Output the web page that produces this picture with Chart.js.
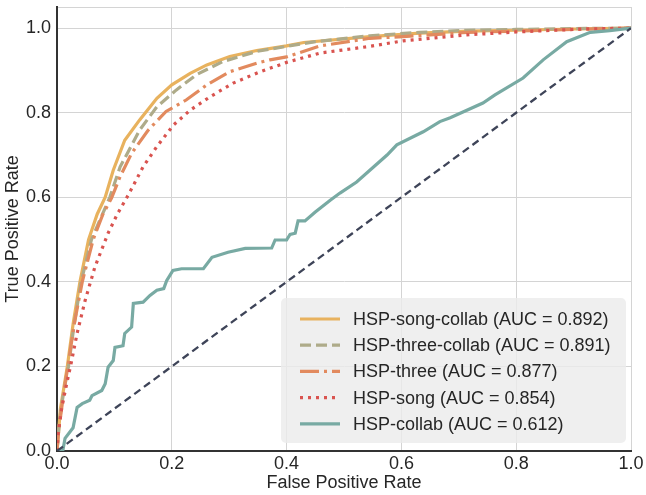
<!DOCTYPE html>
<html>
<head>
<meta charset="utf-8">
<script src="https://cdn.jsdelivr.net/npm/chart.js@4.4.1/dist/chart.umd.min.js"></script>
<style>
  html, body { margin: 0; padding: 0; background: #ffffff; }
  #roc { display: block; }
</style>
</head>
<body>
<canvas id="roc" width="646" height="495"></canvas>
<script>
// ROC curves, values
const seriesLabels = [
    'HSP-song-collab (AUC = 0.892)',
    'HSP-three-collab (AUC = 0.891)',
    'HSP-three (AUC = 0.877)',
    'HSP-song (AUC = 0.854)',
    'HSP-collab (AUC = 0.612)'
];

const songCollabFpr = [0, 0.003, 0.006, 0.012, 0.018, 0.028, 0.04, 0.055, 0.07, 0.084, 0.098, 0.118, 0.144, 0.174, 0.2, 0.232, 0.261, 0.301, 0.348, 0.4, 0.43, 0.545, 0.632, 0.714, 0.8, 0.9, 1];
const songCollabTpr = [0, 0.05, 0.1, 0.15, 0.2, 0.3, 0.4, 0.5, 0.56, 0.6, 0.664, 0.735, 0.783, 0.834, 0.866, 0.893, 0.913, 0.933, 0.947, 0.958, 0.966, 0.98, 0.988, 0.993, 0.995, 0.998, 1];

const threeCollabFpr = [0, 0.003, 0.007, 0.013, 0.02, 0.03, 0.042, 0.06, 0.092, 0.11, 0.144, 0.174, 0.208, 0.243, 0.289, 0.348, 0.4, 0.45, 0.545, 0.632, 0.714, 0.8, 0.9, 1];
const threeCollabTpr = [0, 0.05, 0.1, 0.15, 0.2, 0.3, 0.4, 0.5, 0.6, 0.672, 0.759, 0.814, 0.854, 0.89, 0.921, 0.945, 0.957, 0.968, 0.982, 0.99, 0.995, 0.997, 0.999, 1];

const threeFpr = [0, 0.003, 0.008, 0.013, 0.019, 0.03, 0.044, 0.063, 0.08, 0.095, 0.11, 0.13, 0.159, 0.19, 0.225, 0.261, 0.301, 0.348, 0.371, 0.4, 0.458, 0.545, 0.603, 0.714, 0.8, 0.9, 1];
const threeTpr = [0, 0.05, 0.1, 0.15, 0.2, 0.3, 0.4, 0.5, 0.56, 0.598, 0.649, 0.704, 0.759, 0.803, 0.83, 0.866, 0.897, 0.917, 0.925, 0.932, 0.958, 0.976, 0.98, 0.99, 0.993, 0.997, 1];

const songFpr = [0, 0.002, 0.008, 0.017, 0.025, 0.035, 0.049, 0.066, 0.089, 0.105, 0.124, 0.15, 0.174, 0.203, 0.232, 0.267, 0.307, 0.354, 0.4, 0.458, 0.545, 0.603, 0.714, 0.8, 0.917, 1];
const songTpr = [0, 0.04, 0.1, 0.16, 0.21, 0.278, 0.356, 0.435, 0.515, 0.56, 0.605, 0.672, 0.72, 0.771, 0.806, 0.838, 0.87, 0.897, 0.919, 0.941, 0.957, 0.97, 0.984, 0.991, 0.998, 1];

const collabFpr = [0, 0.01, 0.014, 0.028, 0.035, 0.044, 0.057, 0.061, 0.078, 0.084, 0.089, 0.098, 0.101, 0.115, 0.118, 0.13, 0.133, 0.15, 0.162, 0.174, 0.186, 0.191, 0.202, 0.217, 0.255, 0.27, 0.298, 0.328, 0.374, 0.38, 0.4, 0.406, 0.415, 0.42, 0.432, 0.45, 0.476, 0.493, 0.522, 0.575, 0.592, 0.638, 0.667, 0.685, 0.742, 0.763, 0.812, 0.847, 0.888, 0.929, 0.963, 1];
const collabTpr = [0, 0, 0.03, 0.055, 0.103, 0.112, 0.12, 0.131, 0.143, 0.159, 0.198, 0.214, 0.245, 0.249, 0.278, 0.293, 0.349, 0.352, 0.368, 0.38, 0.384, 0.403, 0.427, 0.431, 0.431, 0.458, 0.47, 0.479, 0.48, 0.499, 0.499, 0.512, 0.515, 0.544, 0.544, 0.565, 0.593, 0.61, 0.636, 0.7, 0.724, 0.755, 0.779, 0.788, 0.823, 0.842, 0.882, 0.925, 0.968, 0.99, 0.994, 1];

const chanceFpr = [0, 1];
const chanceTpr = [0, 1];

const xTicks = [0, 0.2, 0.4, 0.6, 0.8, 1.0];
const yTicks = [0, 0.2, 0.4, 0.6, 0.8, 1.0];

function toPoints(xs, ys) {
    return xs.map(function (x, i) { return { x: x, y: ys[i] }; });
}

const LW = 3.2;
const styles = [
    { color: '#e8b25e', dash: [] },
    { color: '#aeab89', dash: [11, 5] },
    { color: '#e28a5e', dash: [19, 5, 3, 5] },
    { color: '#d9534f', dash: [3, 5] },
    { color: '#78aaa3', dash: [] }
];

const seriesData = [
    toPoints(songCollabFpr, songCollabTpr),
    toPoints(threeCollabFpr, threeCollabTpr),
    toPoints(threeFpr, threeTpr),
    toPoints(songFpr, songTpr),
    toPoints(collabFpr, collabTpr)
];

const datasets = seriesData.map(function (pts, i) {
    return {
        label: seriesLabels[i],
        data: pts,
        borderColor: styles[i].color,
        backgroundColor: styles[i].color,
        borderWidth: LW,
        borderDash: styles[i].dash,
        borderCapStyle: 'butt',
        pointRadius: 0,
        showLine: true,
        tension: 0,
        order: 5 - i
    };
});
datasets.push({
    label: 'chance',
    data: toPoints(chanceFpr, chanceTpr),
    borderColor: '#3e4458',
    borderWidth: 2.3,
    borderDash: [7.5, 4.5],
    pointRadius: 0,
    showLine: true,
    order: 0
});

// legend box drawn inside the plot, bottom right
const insideLegend = {
    id: 'insideLegend',
    afterDatasetsDraw(chart) {
        const ctx = chart.ctx;
        const area = chart.chartArea;
        const w = 345, h = 145;
        const x0 = area.right - 5 - w;
        const y0 = area.bottom - 8 - h;
        ctx.save();
        ctx.fillStyle = 'rgba(236,236,236,0.82)';
        ctx.beginPath();
        ctx.roundRect(x0, y0, w, h, 5);
        ctx.fill();
        ctx.font = '18px "Liberation Sans", Arial, sans-serif';
        ctx.textBaseline = 'middle';
        for (let i = 0; i < seriesLabels.length; i++) {
            const cy = y0 + 21 + i * 26.2;
            ctx.strokeStyle = styles[i].color;
            ctx.lineWidth = LW;
            ctx.setLineDash(styles[i].dash);
            ctx.beginPath();
            ctx.moveTo(x0 + 19, cy);
            ctx.lineTo(x0 + 59, cy);
            ctx.stroke();
            ctx.setLineDash([]);
            ctx.fillStyle = '#262626';
            ctx.fillText(seriesLabels[i], x0 + 72, cy + 1);
        }
        ctx.restore();
    }
};

const tickFont = { family: '"Liberation Sans", Arial, sans-serif', size: 18 };

new Chart(document.getElementById('roc').getContext('2d'), {
    type: 'scatter',
    data: { datasets: datasets },
    options: {
        responsive: false,
        animation: false,
        layout: { padding: { top: 7, right: 15, left: 0, bottom: 0 } },
        plugins: {
            legend: { display: false },
            tooltip: { enabled: false }
        },
        scales: {
            x: {
                type: 'linear',
                min: 0,
                max: 1,
                afterBuildTicks: function (scale) {
                    scale.ticks = xTicks.map(function (v) { return { value: v }; });
                },
                afterFit: function (scale) {
                    scale.height = 44;
                    scale.paddingLeft = 0;
                    scale.paddingRight = 0;
                },
                ticks: {
                    font: tickFont,
                    color: '#262626',
                    padding: 2,
                    maxRotation: 0,
                    callback: function (v) { return v.toFixed(1); }
                },
                grid: { color: '#d4d4d4', lineWidth: 1, drawTicks: false },
                border: { color: '#333333', width: 2 },
                title: {
                    display: true,
                    text: 'False Positive Rate',
                    font: tickFont,
                    color: '#262626',
                    padding: { top: 0, bottom: 1 }
                }
            },
            y: {
                type: 'linear',
                min: 0,
                max: 1.05,
                afterBuildTicks: function (scale) {
                    scale.ticks = yTicks.concat([1.05]).map(function (v) { return { value: v }; });
                },
                afterFit: function (scale) {
                    scale.width = 57;
                    scale.paddingTop = 0;
                    scale.paddingBottom = 0;
                },
                ticks: {
                    font: tickFont,
                    color: '#262626',
                    padding: 6,
                    callback: function (v) { return v > 1.01 ? '' : v.toFixed(1); }
                },
                grid: { color: '#d4d4d4', lineWidth: 1, drawTicks: false },
                border: { color: '#333333', width: 2 },
                title: {
                    display: true,
                    text: 'True Positive Rate',
                    font: tickFont,
                    color: '#262626',
                    padding: { top: 2, bottom: 0 }
                }
            }
        }
    },
    plugins: [insideLegend]
});
</script>
</body>
</html>
